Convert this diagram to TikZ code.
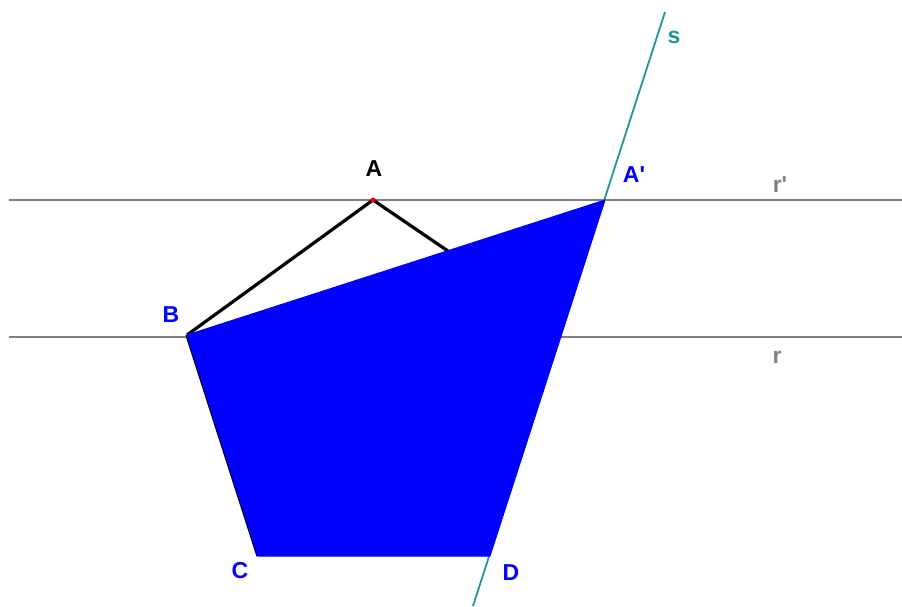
\documentclass[tikz,border=0pt]{standalone}
\usepackage{fontspec}
\setmainfont{Liberation Sans}
\definecolor{lgrey}{RGB}{128,128,128}
\definecolor{teal2}{RGB}{32,150,150}
\definecolor{pblue}{RGB}{0,0,255}
\begin{document}
\begin{tikzpicture}[x=1pt,y=-1pt,
  lbl/.style={font=\fontsize{23}{23}\selectfont\bfseries,inner sep=0pt},
  gline/.style={draw=lgrey,line width=2pt},
  bline/.style={draw=black,line width=3.2pt},
  sline/.style={draw=teal2,line width=1.8pt}]
\useasboundingbox (0,0) rectangle (902,606);
% points
\coordinate (A) at (373,200);
\coordinate (Ap) at (605,200);
\coordinate (B) at (187,335);
\coordinate (C) at (258,556);
\coordinate (D) at (490,556);
\coordinate (E) at (520,300);
\coordinate (rpL) at (9,200);
\coordinate (rpR) at (902,200);
\coordinate (rL) at (9,337);
\coordinate (rR) at (902,337);
\coordinate (sB) at (473,606);
\coordinate (sT) at (665,12);
% lines
\draw[gline] (rpL) -- (rpR);
\draw[gline] (rL) -- (rR);
\draw[bline] (B) -- (A) -- (E);
\draw[bline] (B) -- (C);
\draw[sline] (sB) -- (sT);
\filldraw[fill=pblue,draw=pblue,line width=1pt,line join=round] (B) -- (Ap) -- (D) -- (C) -- cycle;
\fill[red] (A) circle (2.5);
% labels
\node[lbl,text=black] (lA) at (374,169) {A};
\node[lbl,text=pblue] (lAp) at (634,175) {A\textquotesingle};
\node[lbl,text=pblue] (lB) at (171,315) {B};
\node[lbl,text=pblue] (lC) at (240,571) {C};
\node[lbl,text=pblue] (lD) at (511,573) {D};
\node[lbl,text=teal2,anchor=base] (ls) at (674,43) {s};
\node[lbl,text=lgrey,anchor=base] (lrp) at (780,192) {r\textquotesingle};
\node[lbl,text=lgrey,anchor=base] (lr) at (777,363) {r};
\end{tikzpicture}
\end{document}
